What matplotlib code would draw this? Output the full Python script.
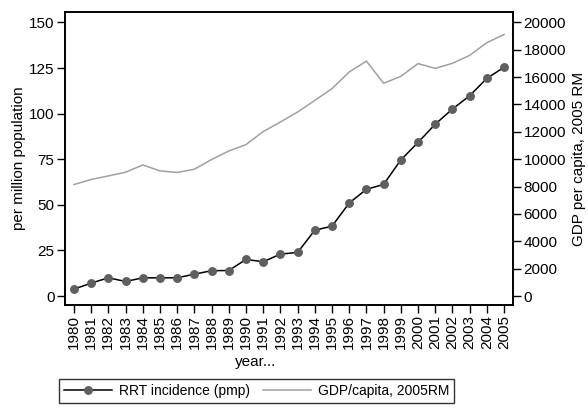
import matplotlib
matplotlib.use("Agg")
import matplotlib.pyplot as plt
from matplotlib.lines import Line2D

years = list(range(1980, 2006))
rrt = [3.8, 7.1, 10.0, 8.0, 10.0, 10.0, 10.0, 12.0, 13.9, 14.0, 20.1, 18.8, 23.0, 23.9,
       36.1, 38.3, 51.0, 58.5, 61.2, 74.6, 84.2, 94.2, 102.5, 109.8, 119.3, 125.4]
gdp = [8150, 8520, 8780, 9050, 9580, 9150, 9030, 9270, 9980, 10600, 11070, 12020, 12720, 13450,
       14300, 15160, 16380, 17170, 15550, 16060, 16990, 16640, 17010, 17590, 18520, 19120]
left_ticks = [0, 25, 50, 75, 100, 125, 150]
right_ticks = list(range(0, 20001, 2000))

plt.rcParams['font.family'] = ['Liberation Sans', 'DejaVu Sans']
fs = 11

fig = plt.figure(figsize=(5.88, 4.09), dpi=100)
W, H = 588, 409
ax = fig.add_axes([65 / W, (H - 305) / H, 448 / W, 293 / H])
ax2 = ax.twinx()

ax.set_zorder(ax2.get_zorder() + 1)
ax.patch.set_visible(False)

mk = dict(marker='o', markersize=5.4, markerfacecolor='#5f5f5f', markeredgecolor='#5f5f5f')
ax2.plot(years, gdp, color='#a0a0a0', lw=1.1, label='GDP/capita, 2005RM')
ax.plot(years, rrt, color='black', lw=1.1, label='RRT incidence (pmp)', **mk)

ylo, yhi = -4.9, 155.7
ax.set_ylim(ylo, yhi)
ax2.set_ylim(ylo * 20000 / 150, yhi * 20000 / 150)
ax.set_xlim(1979.48, 2005.52)

ax.set_yticks(left_ticks)
ax2.set_yticks(right_ticks)
ax.set_xticks(years)
ax.set_xticklabels([str(y) for y in years], rotation=90)

for a in (ax, ax2):
    a.tick_params(direction='out', length=5.5, width=1, labelsize=fs, colors='black', pad=2)
    for s in a.spines.values():
        s.set_linewidth(1.2)
        s.set_color('black')

yc = 1 - 158.5 / H
fig.text(19 / W, yc, 'per million population', rotation=90, ha='center', va='center', fontsize=fs)
fig.text(579 / W, yc, 'GDP per capita, 2005 RM', rotation=90, ha='center', va='center', fontsize=fs)

fig.text(256 / W, 1 - 362 / H, 'year...', ha='center', va='center', fontsize=fs)

h1 = Line2D([], [], color='black', lw=1.1, **mk)
h2 = Line2D([], [], color='#a0a0a0', lw=1.1)
leg = fig.legend([h1, h2], ['RRT incidence (pmp)', 'GDP/capita, 2005RM'], ncol=2,
                 loc='center', bbox_to_anchor=(256.5 / W, 1 - 391 / H), fontsize=10,
                 frameon=True, fancybox=False, edgecolor='black', handlelength=3.5,
                 columnspacing=0.9, borderpad=0.35, handletextpad=0.5, borderaxespad=0)
leg.get_frame().set_linewidth(1.0)

fig.savefig('out.png', dpi=100)
